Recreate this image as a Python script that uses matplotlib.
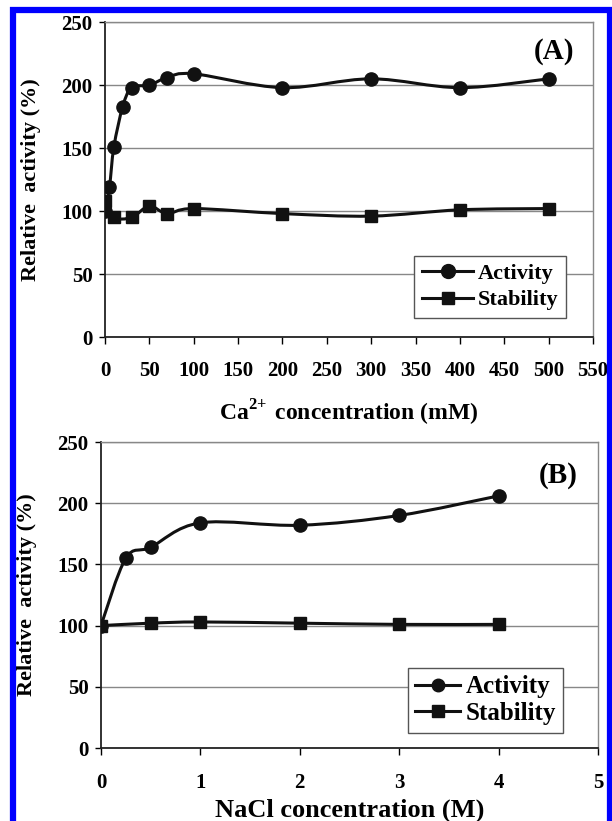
import matplotlib
matplotlib.use("Agg")
import matplotlib.pyplot as plt
from matplotlib.path import Path
from matplotlib.patches import PathPatch, Rectangle

plt.rcParams['font.family'] = ['Liberation Serif', 'DejaVu Serif']
plt.rcParams['font.weight'] = 'bold'
plt.rcParams['mathtext.fontset'] = 'custom'
plt.rcParams['mathtext.rm'] = 'Liberation Serif:bold'
plt.rcParams['mathtext.bf'] = 'Liberation Serif:bold'

# panel A: Ca2+ (mM)
ca_act_x = [0, 5, 10, 20, 30, 50, 70, 100, 200, 300, 400, 500]
ca_act_y = [100, 119, 151, 183, 198, 200, 206, 209, 198, 205, 198, 205]
ca_stab_x = [0, 10, 30, 50, 70, 100, 200, 300, 400, 500]
ca_stab_y = [108, 95, 95, 104, 98, 102, 98, 96, 101, 102]

# panel B: NaCl (M)
na_act_x = [0, 0.25, 0.5, 1, 2, 3, 4]
na_act_y = [100, 155, 164, 184, 182, 190, 206]
na_stab_x = [0, 0.5, 1, 2, 3, 4]
na_stab_y = [100, 102, 103, 102, 101, 101]

y_ticks = [0, 50, 100, 150, 200, 250]


def smooth_line(ax, xs, ys, lw=2.2):
    # Excel style smoothed line: cubic bezier through the points (done in display space)
    pts = ax.transData.transform(list(zip(xs, ys)))
    verts = [tuple(pts[0])]
    codes = [Path.MOVETO]
    n = len(pts)
    for i in range(n - 1):
        p0 = pts[i - 1] if i > 0 else pts[i]
        p1 = pts[i]
        p2 = pts[i + 1]
        p3 = pts[i + 2] if i + 2 < n else pts[i + 1]
        c1 = p1 + (p2 - p0) / 6.0
        c2 = p2 - (p3 - p1) / 6.0
        verts += [tuple(c1), tuple(c2), tuple(p2)]
        codes += [Path.CURVE4] * 3
    patch = PathPatch(Path(verts, codes), facecolor='none', edgecolor='#111111',
                      lw=lw, transform=None, zorder=3)
    ax.add_artist(patch)


def style_axes(ax, xlim, xticks, xlabels, xpad):
    ax.set_xlim(*xlim)
    ax.set_ylim(0, 250)
    ax.set_yticks(y_ticks)
    ax.set_xticks(xticks)
    ax.set_xticklabels(xlabels)
    ax.yaxis.grid(True, color='#888888', lw=1)
    ax.set_axisbelow(True)
    for s in ['top', 'right']:
        ax.spines[s].set_color('#888888')
        ax.spines[s].set_linewidth(1)
    for s in ['left', 'bottom']:
        ax.spines[s].set_color('#222222')
        ax.spines[s].set_linewidth(1.3)
    ax.tick_params(axis='x', direction='out', length=5, width=1, pad=xpad, labelsize=15)
    ax.tick_params(axis='y', direction='out', length=4, width=1, pad=5, labelsize=15)
    ax.set_ylabel('Relative  activity (%)', fontsize=16, fontweight='bold', labelpad=15)


fig = plt.figure(figsize=(6.12, 8.21), dpi=100)

axA = fig.add_axes([0.1716, 0.5895, 0.7974, 0.3835])
axB = fig.add_axes([0.165, 0.0889, 0.812, 0.3727])

style_axes(axA, (0, 550), list(range(0, 551, 50)), [str(v) for v in range(0, 551, 50)], 12)
style_axes(axB, (0, 5), [0, 1, 2, 3, 4, 5], ['0', '1', '2', '3', '4', '5'], 13)

axA.set_xlabel(r'Ca$^{2\!+}\,$concentration (mM)', fontsize=17, fontweight='bold', labelpad=12)
axB.set_xlabel('NaCl concentration (M)', fontsize=19, fontweight='bold', labelpad=4)

fig.canvas.draw()

for ax, ax_x, ax_y, st_x, st_y in [(axA, ca_act_x, ca_act_y, ca_stab_x, ca_stab_y),
                                   (axB, na_act_x, na_act_y, na_stab_x, na_stab_y)]:
    smooth_line(ax, ax_x, ax_y)
    smooth_line(ax, st_x, st_y)
    ax.plot(ax_x, ax_y, 'o', color='#111111', ms=9.5, zorder=4)
    ax.plot(st_x, st_y, 's', color='#111111', ms=8.5, zorder=4)

# legend handles
hA = [axA.plot([], [], '-o', color='#111111', lw=2.2, ms=10)[0],
      axA.plot([], [], '-s', color='#111111', lw=2.2, ms=9)[0]]
legA = axA.legend(hA, ['Activity', 'Stability'], loc='lower right',
                  bbox_to_anchor=(0.945, 0.06), fancybox=False, edgecolor='#555555',
                  framealpha=1, prop={'weight': 'bold', 'size': 16}, handlelength=2.3,
                  handletextpad=0.2, borderpad=0.35, labelspacing=0.25, borderaxespad=0)
legA.get_frame().set_linewidth(1)

hB = [axB.plot([], [], '-o', color='#111111', lw=2.2, ms=9)[0],
      axB.plot([], [], '-s', color='#111111', lw=2.2, ms=8)[0]]
legB = axB.legend(hB, ['Activity', 'Stability'], loc='lower right',
                  bbox_to_anchor=(0.93, 0.05), fancybox=False, edgecolor='#555555',
                  framealpha=1, prop={'weight': 'bold', 'size': 18}, handlelength=1.8,
                  handletextpad=0.2, borderpad=0.3, labelspacing=0.15, borderaxespad=0)
legB.get_frame().set_linewidth(1)

axA.text(0.961, 0.908, '(A)', transform=axA.transAxes, ha='right', va='center',
         fontsize=21, fontweight='bold')
axB.text(0.96, 0.89, '(B)', transform=axB.transAxes, ha='right', va='center',
         fontsize=21, fontweight='bold')

# blue frame around the figure
fig.patches.append(Rectangle((12.5 / 612, -0.05), (609.5 - 12.5) / 612, 1 - 10.5 / 821 + 0.05,
                             transform=fig.transFigure, fill=False, edgecolor='#0000ff',
                             lw=4.5, zorder=10))

fig.savefig('out.png', dpi=100)
